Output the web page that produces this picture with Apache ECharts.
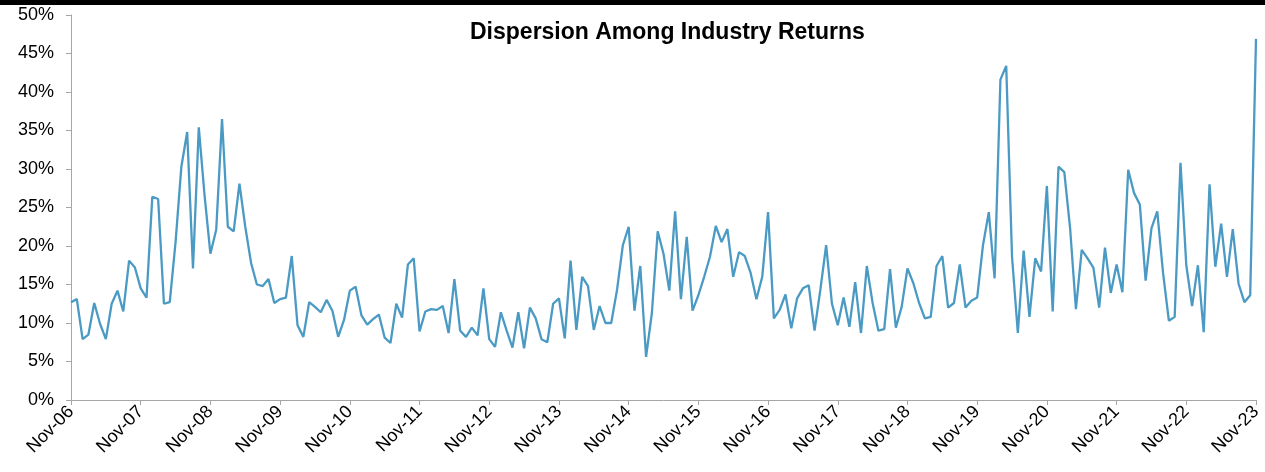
<!DOCTYPE html>
<html>
<head>
<meta charset="utf-8">
<script src="https://cdn.jsdelivr.net/npm/echarts@6/dist/echarts.min.js"></script>
<style>
    html, body { margin: 0; padding: 0; background: #fff; }
    #chart { width: 1265px; height: 472px; }
</style>
</head>
<body>
<div id="chart"></div>
<script>
    // monthly dispersion (%), Nov-06 .. Nov-23
    const dispersion = [
        12.7, 13.1, 7.9, 8.5, 12.6, 9.9, 7.9, 12.5, 14.2, 11.5, 18.1, 17.2,
        14.5, 13.3, 26.4, 26.1, 12.5, 12.7, 20.5, 30.3, 34.8, 17.1, 35.4, 26.5,
        19.0, 22.1, 36.5, 22.5, 21.9, 28.1, 22.5, 17.8, 15.0, 14.8, 15.7, 12.6,
        13.1, 13.3, 18.7, 9.7, 8.2, 12.7, 12.1, 11.4, 13.0, 11.6, 8.2, 10.4,
        14.2, 14.7, 11.0, 9.8, 10.5, 11.1, 8.1, 7.4, 12.5, 10.7, 17.6, 18.4,
        8.9, 11.5, 11.8, 11.7, 12.2, 8.7, 15.7, 9.0, 8.2, 9.4, 8.4, 14.5,
        7.9, 6.9, 11.4, 9.0, 6.8, 11.4, 6.7, 12.0, 10.6, 7.9, 7.5, 12.5,
        13.2, 8.0, 18.1, 9.1, 16.0, 14.8, 9.1, 12.2, 10.0, 10.0, 14.3, 20.1,
        22.5, 11.6, 17.4, 5.6, 11.3, 21.9, 19.0, 14.2, 24.5, 13.1, 21.2, 11.6,
        13.6, 16.0, 18.6, 22.6, 20.5, 22.2, 16.0, 19.2, 18.7, 16.5, 13.1, 16.0,
        24.4, 10.6, 11.7, 13.7, 9.3, 13.2, 14.5, 14.9, 9.0, 14.3, 20.1, 12.5,
        9.7, 13.3, 9.5, 15.3, 8.7, 17.4, 12.6, 9.0, 9.2, 17.0, 9.4, 12.1,
        17.1, 15.2, 12.6, 10.6, 10.8, 17.4, 18.7, 12.0, 12.6, 17.6, 12.0, 12.9,
        13.3, 20.1, 24.4, 15.8, 41.6, 43.4, 18.6, 8.7, 19.4, 10.8, 18.4, 16.7,
        27.8, 11.5, 30.3, 29.6, 22.3, 11.8, 19.5, 18.4, 17.2, 12.0, 19.8, 13.9,
        17.6, 14.0, 29.9, 26.9, 25.4, 15.5, 22.3, 24.5, 16.5, 10.3, 10.8, 30.8,
        17.5, 12.2, 17.5, 8.8, 28.0, 17.3, 22.9, 16.0, 22.2, 15.1, 12.7, 13.6,
        46.9
    ]
    const monthNames = ['Jan', 'Feb', 'Mar', 'Apr', 'May', 'Jun', 'Jul', 'Aug', 'Sep', 'Oct', 'Nov', 'Dec']
    // category labels, one per month starting Nov-06
    const months = dispersion.map((v, i) => {
        const m = (10 + i) % 12
        const y = 6 + Math.floor((10 + i) / 12)
        return monthNames[m] + '-' + String(y).padStart(2, '0')
    })

    const chart = echarts.init(document.getElementById('chart'))
    chart.setOption({
        animation: false,
        backgroundColor: '#fff',
        graphic: [
            {
                type: 'rect',
                left: 0,
                top: 0,
                shape: {width: 1265, height: 5},
                style: {fill: '#000'}
            }
        ],
        title: {
            text: 'Dispersion Among Industry Returns',
            left: 465,
            top: 16,
            textStyle: {
                fontFamily: 'Liberation Sans',
                fontSize: 23,
                fontWeight: 'bold',
                color: '#000'
            }
        },
        grid: {
            left: 71,
            right: 9,
            top: 15,
            bottom: 72
        },
        xAxis: {
            type: 'category',
            boundaryGap: false,
            data: months,
            axisLine: {lineStyle: {color: '#a6a6a6', width: 1}},
            axisTick: {
                show: true,
                interval: 11,
                length: 5,
                lineStyle: {color: '#a6a6a6'}
            },
            axisLabel: {
                interval: 11,
                rotate: 45,
                margin: 9,
                fontFamily: 'Liberation Sans',
                fontSize: 18,
                color: '#000'
            },
            splitLine: {show: false}
        },
        yAxis: {
            type: 'value',
            min: 0,
            max: 50,
            interval: 5,
            axisLine: {show: true, lineStyle: {color: '#a6a6a6', width: 1}},
            axisTick: {show: true, length: 5, lineStyle: {color: '#a6a6a6'}},
            axisLabel: {
                formatter: '{value}%',
                margin: 17,
                fontFamily: 'Liberation Sans',
                fontSize: 18,
                color: '#000'
            },
            splitLine: {show: false}
        },
        series: [
            {
                name: 'Dispersion',
                type: 'line',
                data: dispersion,
                symbol: 'none',
                lineStyle: {color: '#4a9ac4', width: 2.3},
                itemStyle: {color: '#4a9ac4'}
            }
        ]
    })
</script>
</body>
</html>
